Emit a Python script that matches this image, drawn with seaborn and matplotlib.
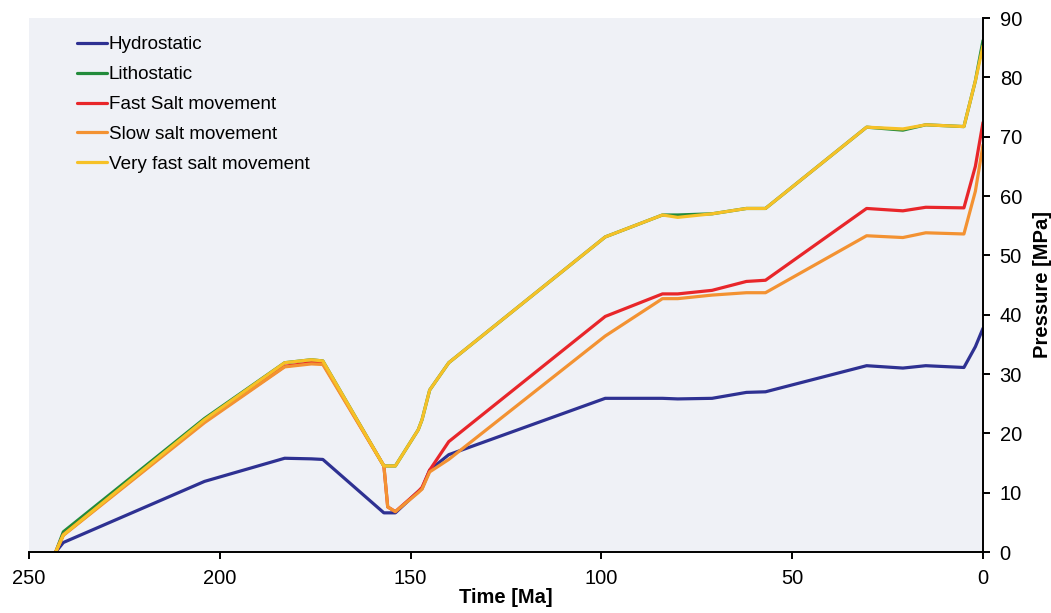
import matplotlib
matplotlib.use("Agg")
import matplotlib.pyplot as plt
import seaborn as sns
import pandas as pd

# Time before present [Ma], shared by all pressure histories
time_ma = [243, 241, 204, 183, 176, 173, 157, 156, 154, 148, 147, 145, 140,
           99, 84, 80, 71, 62, 57, 30.5, 21, 15, 5, 2, 0]

# Pressure histories [MPa]
hydrostatic = [0, 1.6, 11.9, 15.8, 15.7, 15.6, 6.6, 6.6, 6.6, 10.2, 10.7, 13.8, 16.4,
               25.9, 25.9, 25.8, 25.9, 26.9, 27.0, 31.4, 31.0, 31.4, 31.1, 34.6, 37.7]
lithostatic = [0, 3.4, 22.5, 31.9, 32.4, 32.2, 14.5, 14.5, 14.5, 20.6, 22.3, 27.3, 31.9,
               53.1, 56.8, 56.8, 57.0, 57.9, 57.9, 71.6, 71.1, 72.0, 71.7, 79.4, 86.2]
fast_salt = [0, 2.9, 22.0, 31.3, 31.9, 31.8, 14.5, 7.6, 6.8, 10.2, 10.9, 13.8, 18.6,
             39.7, 43.5, 43.5, 44.1, 45.6, 45.8, 57.9, 57.5, 58.1, 58.0, 65.0, 72.4]
slow_salt = [0, 2.8, 21.8, 31.2, 31.7, 31.6, 14.5, 7.6, 6.8, 10.0, 10.6, 13.5, 15.6,
             36.4, 42.7, 42.7, 43.3, 43.7, 43.7, 53.3, 53.0, 53.8, 53.6, 60.8, 68.6]
very_fast_salt = [0, 2.9, 22.3, 31.9, 32.4, 32.2, 14.5, 14.5, 14.5, 20.6, 22.3, 27.3, 31.9,
                  53.1, 56.8, 56.4, 57.0, 57.9, 57.9, 71.6, 71.3, 72.0, 71.7, 79.4, 85.3]

series_names = ["Hydrostatic", "Lithostatic", "Fast Salt movement",
                "Slow salt movement", "Very fast salt movement"]
series_values = [hydrostatic, lithostatic, fast_salt, slow_salt, very_fast_salt]
series_colors = ["#2e3192", "#228b3b", "#e8262a", "#f39232", "#f6c127"]

x_ticks = [250, 200, 150, 100, 50, 0]
y_ticks = [0, 10, 20, 30, 40, 50, 60, 70, 80, 90]

frames = []
for name, vals in zip(series_names, series_values):
    frames.append(pd.DataFrame({"time": time_ma, "pressure": vals, "series": name}))
df = pd.concat(frames, ignore_index=True)

sns.set_theme(style="white")
plt.rcParams["font.family"] = ["Liberation Sans", "DejaVu Sans"]

fig = plt.figure(figsize=(10.51, 6.13), dpi=100)
ax = fig.add_axes([29 / 1051, 1 - 552 / 613, (983 - 29) / 1051, (552 - 18) / 613])
ax.set_facecolor("#eff1f6")

sns.lineplot(data=df, x="time", y="pressure", hue="series", hue_order=series_names,
             palette=dict(zip(series_names, series_colors)), sort=False,
             estimator=None, linewidth=2.3, ax=ax, legend=False)

ax.set_xlim(250, 0)
ax.set_ylim(0, 90)
ax.set_xticks(x_ticks)
ax.set_yticks(y_ticks)
ax.yaxis.tick_right()
ax.yaxis.set_label_position("right")

for side in ["left", "top"]:
    ax.spines[side].set_visible(False)
for side in ["bottom", "right"]:
    ax.spines[side].set_color("black")
    ax.spines[side].set_linewidth(1.4)

ax.tick_params(axis="both", which="major", direction="out", length=5, width=1.4,
               color="black", labelsize=14.5, labelcolor="black")
ax.tick_params(axis="x", bottom=True, pad=7)
ax.tick_params(axis="y", right=True, left=False, pad=7)

ax.set_xlabel("Time [Ma]", fontsize=14.5, fontweight="bold", labelpad=0, color="black")
ax.set_ylabel("Pressure [MPa]", fontsize=14.5, fontweight="bold", labelpad=8, color="black")

handles = [plt.Line2D([], [], color=c, lw=2.3) for c in series_colors]
ax.legend(handles, series_names, loc="upper left", bbox_to_anchor=(0.042, 0.98),
          frameon=False, fontsize=13.6, handlelength=1.6, handletextpad=0.1,
          labelspacing=0.67, borderaxespad=0, labelcolor="black")

fig.savefig("out.png", dpi=100)
